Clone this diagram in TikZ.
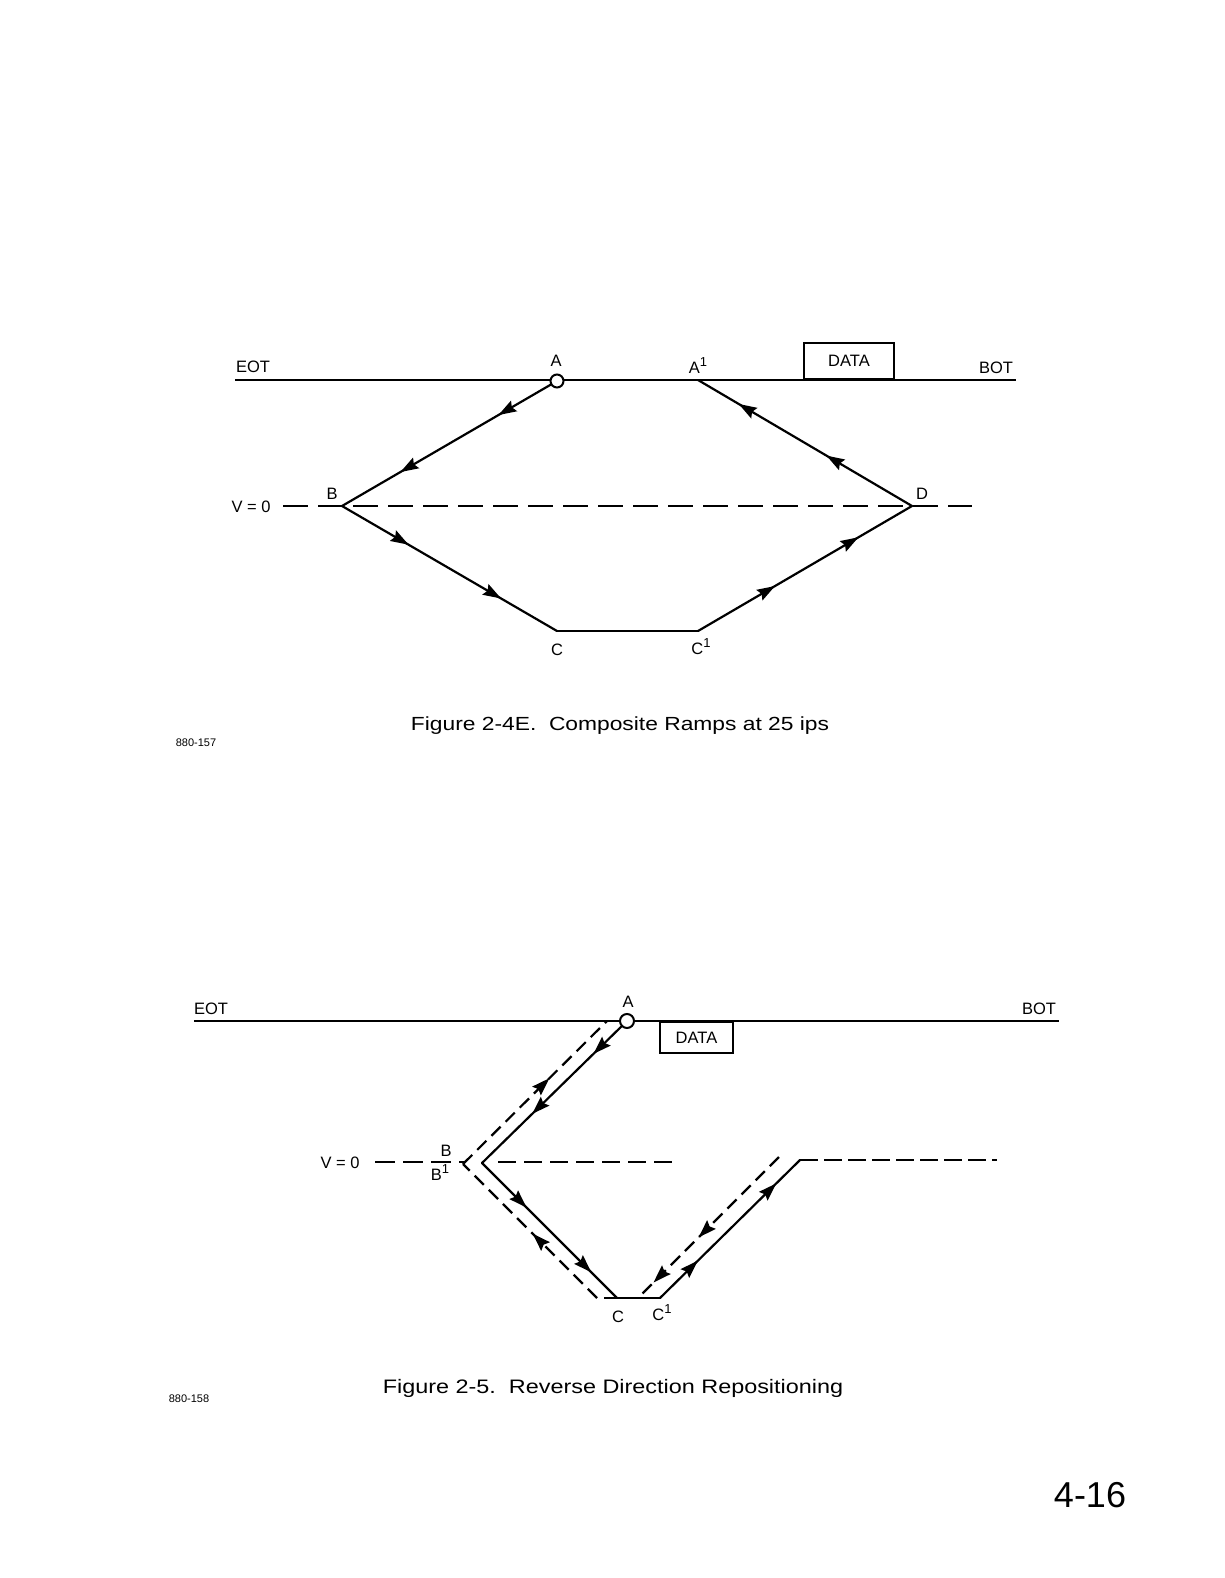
\documentclass[tikz,border=0pt]{standalone}
\usepackage{fontspec}
\setmainfont{Liberation Sans}
\newfontfamily\capfont[FakeStretch=1.2]{Liberation Sans}
\usetikzlibrary{arrows.meta,decorations.markings}
\tikzset{
  ln/.style={line width=2.2pt},
  dl/.style={line width=2.2pt, dash pattern=on 13pt off 7pt},
  >={Stealth[length=18pt,width=12pt,inset=2.5pt]},
  twomarks/.style 2 args={postaction={decorate},decoration={markings,
      mark=at position #1 with {\arrow{>}},
      mark=at position #2 with {\arrow{>}}}},
  onemark/.style={postaction={decorate},decoration={markings,
      mark=at position #1 with {\arrow{>}}}},
  lbl/.style={font=\fontsize{16.5}{16.5}\selectfont, inner sep=0pt},
  capt/.style={font=\capfont\fontsize{19}{19}\selectfont, inner sep=0pt},
  code/.style={font=\fontsize{11}{11}\selectfont, inner sep=0pt},
  ring/.style={circle, draw, fill=white, line width=2pt, minimum size=13pt, inner sep=0pt},
  databox/.style={draw, line width=1.8pt, inner sep=0pt, font=\fontsize{16.5}{16.5}\selectfont},
}
\newcommand{\supone}{\raisebox{7pt}{\fontsize{13}{13}\selectfont 1}}
\begin{document}
\begin{tikzpicture}[x=1pt,y=-1pt]
\useasboundingbox (0,0) rectangle (1224,1578);
\fill[white] (0,0) rectangle (1224,1578);

% ---------------- Figure 2-4E ----------------
\coordinate (tL) at (235,380);
\coordinate (tR) at (1016,380);
\coordinate (tB) at (342,506);
\coordinate (tC) at (557,631);
\coordinate (tC1) at (698,631);
\coordinate (tD) at (912,506);
\coordinate (tA1) at (698,380);
\coordinate (tV0) at (283,506);
\coordinate (tVE) at (972,506);

\draw[ln] (tL) -- (tR);
\draw[line width=2pt, dash pattern=on 25pt off 10pt] (tV0) -- (tVE);
\node[databox, minimum width=90pt, minimum height=36pt, anchor=south] (tData) at (849,380) {DATA};
\node[ring] (tA) at (557,381) {};

\draw[ln, line cap=round, twomarks={0.25}{0.72}] (tA) -- (tB);
\draw[ln, line cap=round, twomarks={0.31}{0.74}] (tB) -- (tC);
\draw[ln, line cap=round] (tC) -- (tC1);
\draw[ln, line cap=round, twomarks={0.36}{0.75}] (tC1) -- (tD);
\draw[ln, line cap=round, twomarks={0.40}{0.81}] (tD) -- (tA1);

\node[lbl] (tEOT) at (253,367) {EOT};
\node[lbl] (tBOT) at (996,368) {BOT};
\node[lbl] (tAl) at (556,361) {A};
\node[lbl] (tA1l) at (698,366) {A\supone};
\node[lbl] (tV0l) at (251,507) {V = 0};
\node[lbl] (tBl) at (332,494) {B};
\node[lbl] (tDl) at (922,494) {D};
\node[lbl] (tCl) at (557,650) {C};
\node[lbl] (tC1l) at (701,647) {C\supone};

\node[capt] (cap1) at (620,726) {Figure 2-4E.\ \ Composite Ramps at 25 ips};
\node[code] (n1) at (196,743) {880-157};

% ---------------- Figure 2-5 ----------------
\coordinate (bL) at (194,1021);
\coordinate (bR) at (1059,1021);
\coordinate (bB) at (482,1163);
\coordinate (bC) at (617,1298);
\coordinate (bC1) at (660,1298);
\coordinate (bE) at (800,1160);
\coordinate (bEend) at (997,1160);
\coordinate (bF) at (779,1157);
\coordinate (bG) at (638,1298);
\coordinate (bH) at (597,1298);
\coordinate (bB1) at (463,1164);
\coordinate (bI) at (607,1021);
\coordinate (bV0) at (375,1162);
\coordinate (bV0e) at (465,1162);
\coordinate (bM0) at (498,1162);
\coordinate (bM1) at (678,1162);

\draw[ln] (bL) -- (bR);
\node[databox, minimum width=73pt, minimum height=31pt] (bData) at (696.5,1037.5) {DATA};

\draw[line width=2pt, dash pattern=on 20pt off 8pt] (bV0) -- (bV0e);
\draw[line width=2pt, dash pattern=on 18pt off 8pt] (bM0) -- (bM1);
\draw[line width=2pt, dash pattern=on 18pt off 6pt] (bE) -- (bEend);

% dashed return path
\draw[dl, twomarks={0.57}{0.89}] (bF) -- (bG);
\draw[dl] (bC) -- (bH);
\draw[dl, onemark={0.48}] (bH) -- (bB1);
\draw[dl, onemark={0.60}] (bB1) -- (bI);

\node[ring, minimum size=14pt] (bA) at (627,1021) {};

% solid path
\draw[ln, line cap=round, twomarks={0.2}{0.64}] (bA) -- (bB);
\draw[ln, line cap=round, twomarks={0.33}{0.81}] (bB) -- (bC);
\draw[ln, line cap=round] (bC) -- (bC1);
\draw[ln, line cap=round, twomarks={0.27}{0.83}] (bC1) -- (bE);

\node[lbl] (bEOT) at (211,1009) {EOT};
\node[lbl] (bBOT) at (1039,1009) {BOT};
\node[lbl] (bAl) at (628,1002) {A};
\node[lbl] (bV0l) at (340,1163) {V = 0};
\node[lbl] (bBl) at (446,1151) {B};
\node[lbl] (bB1l) at (440,1173) {B\supone};
\node[lbl] (bCl) at (618,1317) {C};
\node[lbl] (bC1l) at (662,1313) {C\supone};

\node[capt, font=\capfont\fontsize{19.5}{19.5}\selectfont] (cap2) at (613,1388) {Figure 2-5.\ \ Reverse Direction Repositioning};
\node[code] (n2) at (189,1399) {880-158};

\node[font=\fontsize{36}{36}\selectfont, inner sep=0pt] (pg) at (1090,1495) {4-16};
\end{tikzpicture}
\end{document}
